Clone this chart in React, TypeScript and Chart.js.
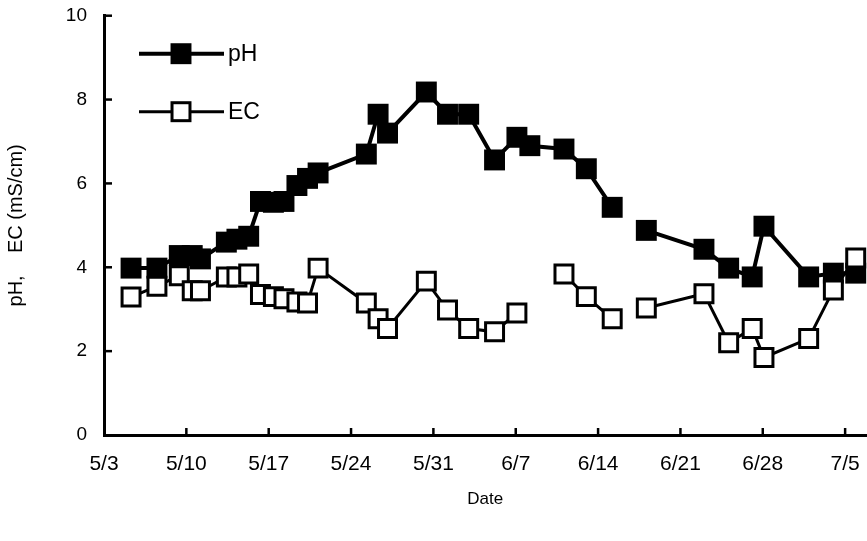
import React, { useEffect, useRef } from "react";
import { Chart, registerables } from "chart.js";

Chart.register(...registerables);

// Days counted from 5/3 (day 0)
const tickDays = [0, 7, 14, 21, 28, 35, 42, 49, 56, 63];
const tickLabels = ["5/3", "5/10", "5/17", "5/24", "5/31", "6/7", "6/14", "6/21", "6/28", "7/5"];
const yTicks = [0, 2, 4, 6, 8, 10];

const sampleDays = [
  2.3, 4.5, 6.4, 7.5, 8.2, 10.4, 11.3, 12.3, 13.3, 14.4, 15.3, 16.4, 17.3, 18.2,
  22.3, 23.3, 24.1, 27.4, 29.2, 31.0, 33.2, 35.1, 36.2, 39.1, 41.0, 43.2, 44.6,
  46.1, 51.0, 53.1, 55.1, 56.1, 59.9, 62.0, 63.9,
];

const phValues = [
  3.98, 3.98, 4.28, 4.28, 4.2, 4.6, 4.67, 4.74, 5.57, 5.55, 5.57, 5.95, 6.12, 6.25,
  6.7, 7.65, 7.2, 8.18, 7.65, 7.65, 6.56, 7.1, 6.9, 6.82, 6.35, 5.43, null,
  4.88, 4.43, 3.98, 3.77, 4.98, 3.77, 3.86, 3.86,
];

const ecValues = [
  3.29, 3.55, 3.8, 3.44, 3.44, 3.77, 3.77, 3.84, 3.35, 3.3, 3.25, 3.17, 3.15, 3.98,
  3.15, 2.77, 2.54, 3.67, 2.98, 2.54, 2.46, 2.91, null, 3.84, 3.3, 2.77, null,
  3.03, 3.37, 2.2, 2.54, 1.85, 2.3, 3.46, 4.22,
];

const FONT = "'Liberation Sans', Arial, sans-serif";

const decorPlugin = {
  id: "decor",
  afterDatasetsDraw(chart: any) {
    const ctx = chart.ctx;
    const { left, top, bottom } = chart.chartArea;
    const xs = chart.scales.x;
    const ys = chart.scales.y;
    ctx.save();
    ctx.strokeStyle = "#000";
    ctx.lineWidth = 2.5;
    xs.ticks.forEach((t: any) => {
      const px = xs.getPixelForValue(t.value);
      if (px <= left + 2) return;
      ctx.beginPath();
      ctx.moveTo(px, bottom);
      ctx.lineTo(px, bottom - 7);
      ctx.stroke();
    });
    ys.ticks.forEach((t: any) => {
      const py = ys.getPixelForValue(t.value);
      if (py >= bottom - 2) return;
      ctx.beginPath();
      ctx.moveTo(left, py);
      ctx.lineTo(left + 8, py);
      ctx.stroke();
    });

    // legend (line + marker + label), in order pH, EC
    const items = [chart.data.datasets[1], chart.data.datasets[0]];
    items.forEach((ds: any, i: number) => {
      const y = top + 38 + i * 58;
      const x0 = left + 35;
      const x1 = left + 120;
      const cx = left + 77;
      ctx.strokeStyle = ds.borderColor;
      ctx.lineWidth = ds.borderWidth;
      ctx.beginPath();
      ctx.moveTo(x0, y);
      ctx.lineTo(x1, y);
      ctx.stroke();
      const side = ds.pointRadius * Math.SQRT2;
      ctx.fillStyle = ds.pointBackgroundColor;
      ctx.fillRect(cx - side / 2, y - side / 2, side, side);
      if (ds.pointBorderWidth > 0) {
        ctx.lineWidth = ds.pointBorderWidth;
        ctx.strokeStyle = ds.pointBorderColor;
        ctx.strokeRect(cx - side / 2, y - side / 2, side, side);
      }
      ctx.fillStyle = "#000";
      ctx.font = `23px ${FONT}`;
      ctx.textBaseline = "middle";
      ctx.textAlign = "left";
      ctx.fillText(ds.label, x1 + 4, y + 1);
    });
    ctx.restore();
  },
};

export default function App() {
  const canvasRef = useRef<HTMLCanvasElement | null>(null);

  useEffect(() => {
    if (!canvasRef.current) return;
    const phPoints = sampleDays.map((d, i) => ({ x: d, y: phValues[i] }));
    const ecPoints = sampleDays.map((d, i) => ({ x: d, y: ecValues[i] }));

    const chart = new Chart(canvasRef.current, {
      type: "line",
      data: {
        datasets: [
          {
            label: "EC",
            data: ecPoints as any,
            borderColor: "#000",
            borderWidth: 3,
            pointStyle: "rect",
            pointRadius: 12.7,
            pointBackgroundColor: "#fff",
            pointBorderColor: "#000",
            pointBorderWidth: 3,
            spanGaps: false,
            order: 0,
            clip: false as any,
          },
          {
            label: "pH",
            data: phPoints as any,
            borderColor: "#000",
            borderWidth: 4,
            pointStyle: "rect",
            pointRadius: 14.8,
            pointBackgroundColor: "#000",
            pointBorderColor: "#000",
            pointBorderWidth: 0,
            spanGaps: false,
            order: 1,
            clip: false as any,
          },
        ],
      },
      options: {
        responsive: false,
        animation: false,
        events: [],
        layout: { padding: { left: 0, right: 0, top: 11, bottom: 0 } },
        plugins: {
          legend: { display: false },
          tooltip: { enabled: false },
        },
        scales: {
          x: {
            type: "linear",
            min: 0,
            max: 64.8,
            grid: { display: false, drawTicks: false },
            border: { display: true, width: 3, color: "#000" },
            afterBuildTicks: (scale: any) => {
              scale.ticks = tickDays.map((v) => ({ value: v }));
            },
            afterFit: (scale: any) => {
              scale.height = 106;
              scale.paddingLeft = 0;
              scale.paddingRight = 0;
            },
            ticks: {
              autoSkip: false,
              maxRotation: 0,
              padding: 17,
              color: "#000",
              font: { family: FONT, size: 21 },
              callback: (value: any) => {
                const idx = tickDays.indexOf(Number(value));
                return idx >= 0 ? tickLabels[idx] : "";
              },
            },
            title: {
              display: true,
              text: "Date",
              color: "#000",
              font: { family: FONT, size: 17 },
              padding: { top: 0, bottom: 31 },
            },
          },
          y: {
            type: "linear",
            min: 0,
            max: 10,
            grid: { display: false, drawTicks: false },
            border: { display: true, width: 3, color: "#000" },
            afterBuildTicks: (scale: any) => {
              scale.ticks = yTicks.map((v) => ({ value: v }));
            },
            afterFit: (scale: any) => {
              scale.width = 104;
              scale.paddingTop = 0;
              scale.paddingBottom = 0;
            },
            ticks: {
              padding: 17,
              color: "#000",
              font: { family: FONT, size: 19 },
            },
            title: {
              display: true,
              text: "pH,    EC (mS/cm)",
              color: "#000",
              font: { family: FONT, size: 20 },
              padding: { top: 4, bottom: 0 },
            },
          },
        },
      },
      plugins: [decorPlugin],
    });

    return () => chart.destroy();
  }, []);

  return (
    <div
      style={{
        position: "absolute",
        left: 0,
        top: 0,
        width: 867,
        height: 541,
        overflow: "hidden",
        background: "#fff",
      }}
    >
      <canvas ref={canvasRef} width={882} height={541} style={{ width: 882, height: 541, display: "block" }} />
    </div>
  );
}
